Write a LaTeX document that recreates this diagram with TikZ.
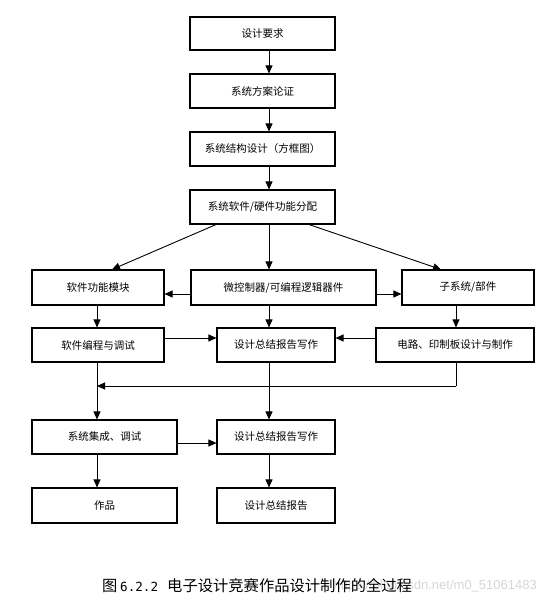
\documentclass[tikz,border=0pt]{standalone}
\usepackage{fontspec}
\setmainfont{Noto Sans CJK SC}
\newfontfamily\wmfont{Liberation Sans}
\newfontfamily\numfont{DejaVu Sans Mono}
\usetikzlibrary{arrows.meta}
\tikzset{
  box/.style={draw=black, line width=1.1pt, inner sep=0pt, font=\fontsize{10.5}{12}\selectfont},
  arr/.style={line width=0.9pt, -{Triangle[length=8pt,width=7pt]}},
  ln/.style={line width=0.9pt},
  captext/.style={anchor=west, inner sep=0pt, font=\fontsize{15.3}{17}\selectfont}
}
\begin{document}
\begin{tikzpicture}[x=1pt,y=-1pt]
\useasboundingbox (0,0) rectangle (549,603);
% top column
\node[box, minimum width=145pt, minimum height=33pt] (b1) at (262.5,33.5) {设计要求};
\node[box, minimum width=145pt, minimum height=34pt] (b2) at (262.5,91) {系统方案论证};
\node[box, minimum width=145pt, minimum height=34pt] (b3) at (262.5,149) {系统结构设计（方框图）};
\node[box, minimum width=145pt, minimum height=34pt] (b4) at (262.5,207) {系统软件/硬件功能分配};
% row 2
\node[box, minimum width=132pt, minimum height=35pt] (L2) at (98,287.5) {软件功能模块};
\node[box, minimum width=185pt, minimum height=35pt] (M2) at (283.5,287.5) {微控制器/可编程逻辑器件};
\node[box, minimum width=132pt, minimum height=35pt] (R2) at (468,287.5) {子系统/部件};
% row 3
\node[box, minimum width=132pt, minimum height=34pt] (L3) at (98,345) {软件编程与调试};
\node[box, minimum width=118pt, minimum height=34pt] (M3) at (276,345) {设计总结报告写作};
\node[box, minimum width=158pt, minimum height=34pt] (R3) at (455,345) {电路、印制板设计与制作};
% row 4
\node[box, minimum width=145pt, minimum height=34pt] (L4) at (104.5,437) {系统集成、调试};
\node[box, minimum width=118pt, minimum height=34pt] (M4) at (276,437) {设计总结报告写作};
% row 5
\node[box, minimum width=145pt, minimum height=35pt] (L5) at (104.5,505.5) {作品};
\node[box, minimum width=118pt, minimum height=35pt] (M5) at (276,505.5) {设计总结报告};
% helper coordinates
\coordinate (cx) at (269,0);
\coordinate (lx) at (97,0);
\coordinate (rx) at (456,0);
\coordinate (dl1) at (216,0);
\coordinate (dl2) at (112,0);
\coordinate (dr1) at (309,0);
\coordinate (dr2) at (441,0);
\coordinate (y2) at (0,294);
\coordinate (y3) at (0,338);
\coordinate (y4) at (0,443);
\coordinate (mr) at (456,386);
\coordinate (ml) at (97,386);
% connectors
\draw[arr] (b1.south -| cx) -- (b2.north -| cx);
\draw[arr] (b2.south -| cx) -- (b3.north -| cx);
\draw[arr] (b3.south -| cx) -- (b4.north -| cx);
\draw[arr] (b4.south -| cx) -- (M2.north -| cx);
\draw[arr] (b4.south -| dl1) -- (L2.north -| dl2);
\draw[arr] (b4.south -| dr1) -- (R2.north -| dr2);
\draw[arr] (M2.west |- y2) -- (L2.east |- y2);
\draw[arr] (M2.east |- y2) -- (R2.west |- y2);
\draw[arr] (L2.south -| lx) -- (L3.north -| lx);
\draw[arr] (M2.south -| cx) -- (M3.north -| cx);
\draw[arr] (R2.south -| rx) -- (R3.north -| rx);
\draw[arr] (L3.east |- y3) -- (M3.west |- y3);
\draw[arr] (R3.west |- y3) -- (M3.east |- y3);
\draw[arr] (L3.south -| lx) -- (L4.north -| lx);
\draw[arr] (M3.south -| cx) -- (M4.north -| cx);
\draw[ln] (R3.south -| rx) -- (mr);
\draw[arr] (mr) -- (ml);
\draw[arr] (L4.east |- y4) -- (M4.west |- y4);
\draw[arr] (L4.south -| lx) -- (L5.north -| lx);
\draw[arr] (M4.south -| cx) -- (M5.north -| cx);
% watermark and caption
\node[anchor=east, text=black!16, font=\wmfont\fontsize{13}{14}\selectfont, inner sep=0pt] (wm) at (537,586) {https://blog.csdn.net/m0\_51061483};
\node[captext] (cap1) at (102,586) {图};
\node[anchor=west, inner sep=0pt, font=\numfont\fontsize{12.6}{14}\selectfont] (cap2) at (120,586.5) {6.2.2};
\node[captext] (cap3) at (167,586) {电子设计竞赛作品设计制作的全过程};
\end{tikzpicture}
\end{document}
